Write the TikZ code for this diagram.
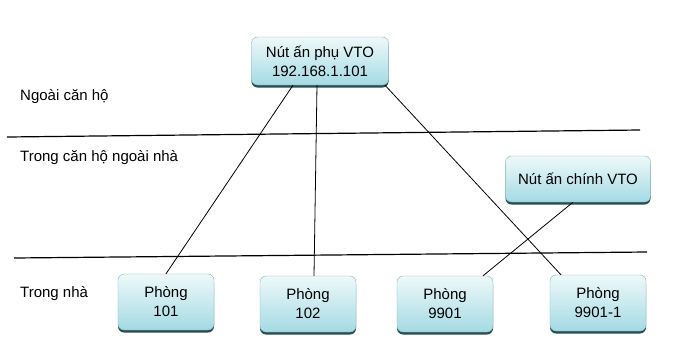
\documentclass[tikz,border=0pt]{standalone}
\usepackage{fontspec}
\setmainfont{Liberation Sans}
\usetikzlibrary{positioning,shadows}
\definecolor{boxtop}{RGB}{238,249,250}
\definecolor{boxbot}{RGB}{164,218,227}
\definecolor{boxline}{RGB}{130,178,186}
\definecolor{boxshade}{RGB}{38,78,84}

\begin{document}
\begin{tikzpicture}[x=1pt,y=-1pt, every node/.style={font=\fontsize{15}{19}\selectfont},
  box/.style={rectangle,draw=boxline,rounded corners=6pt,top color=boxtop,bottom color=boxbot,
    align=center,inner sep=2pt,
    drop shadow={shadow xshift=0pt,shadow yshift=-2.5pt,fill=boxshade,opacity=1}},
  room/.style={box,minimum width=96,minimum height=56},
  zone/.style={anchor=west,inner sep=0pt},
  sep/.style={line width=1.2pt},
  wire/.style={line width=0.8pt}]
  \useasboundingbox (0,0) rectangle (673,360);

  \node[zone] (outer) at (20,97) {Ngoài căn hộ};
  \node[zone] (yard) at (20,158) {Trong căn hộ ngoài nhà};
  \node[zone] (home) at (20,294) {Trong nhà};

  \coordinate (sepAl) at (7,137);
  \coordinate (sepAr) at (640,130);
  \coordinate (sepBl) at (14,258);
  \coordinate (sepBr) at (647,252);
  \draw[sep] (sepAl) -- (sepAr);
  \draw[sep] (sepBl) -- (sepBr);

  \node[box,minimum width=137,minimum height=48] (vtoP) at (320,61) {Nút ấn phụ VTO\\192.168.1.101};
  \node[box,minimum width=145,minimum height=46] (vtoC) at (578,179) {Nút ấn chính VTO};
  \node[room] (p101) at (166,302) {Phòng\\101};
  \node[room] (p102) at (308,304) {Phòng\\102};
  \node[room] (p9901) at (445,304) {Phòng\\9901};
  \node[room] (p9901a) at (598,303) {Phòng\\9901-1};

  \draw[wire] ([xshift=-27pt]vtoP.south) -- (p101.north);
  \draw[wire] ([xshift=-3pt]vtoP.south) -- ([xshift=6pt]p102.north);
  \draw[wire] ([xshift=65pt]vtoP.south) -- ([xshift=-37pt]p9901a.north);
  \draw[wire] ([xshift=-5pt]vtoC.south) -- ([xshift=38pt]p9901.north);
\end{tikzpicture}
\end{document}
